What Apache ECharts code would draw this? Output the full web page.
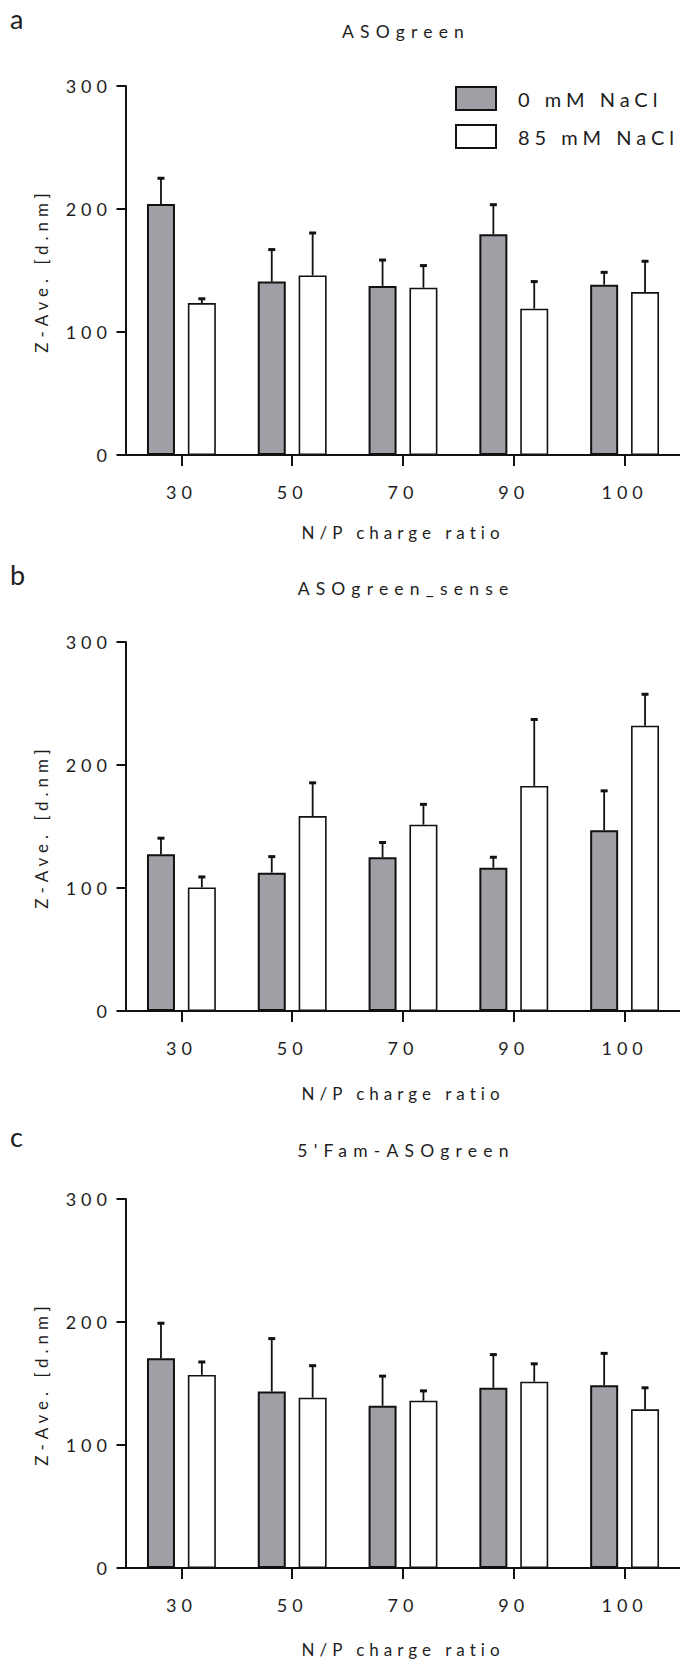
<!DOCTYPE html>
<html><head><meta charset="utf-8">
<script src="https://cdn.jsdelivr.net/npm/echarts@6/dist/echarts.min.js"></script>
<style>
html,body{margin:0;padding:0;background:#fff;}
#chart{width:680px;height:1666px;}
#chart svg text{letter-spacing:5px;}
#chart svg text[style*="17.5px"]{letter-spacing:6.2px;}
</style></head><body><div id="chart"></div>
<script>
// ---- data ----
const categories = ['30', '50', '70', '90', '100'];
const seriesNames = ['0 mM NaCl', '85 mM NaCl'];
const panelTitles = ['ASOgreen', 'ASOgreen_sense', "5'Fam-ASOgreen"];
const panelLetters = ['a', 'b', 'c'];
const xAxisName = 'N/P charge ratio';
const yAxisName = 'Z-Ave. [d.nm]';
const yMin = 0, yMax = 300, yStep = 100;

// panel a: ASOgreen
const a_0mM    = [204, 141, 137.5, 179.5, 138.5];
const a_0mM_sd = [21, 26, 21, 24, 10];
const a_85mM    = [123.5, 146, 136, 119, 132.5];
const a_85mM_sd = [3.5, 34.5, 18, 22, 25];
// panel b: ASOgreen_sense
const b_0mM    = [127.5, 112.5, 125, 116.5, 147];
const b_0mM_sd = [13, 13, 12, 8.5, 32];
const b_85mM    = [100.5, 158.5, 151.5, 183, 232];
const b_85mM_sd = [8.5, 27, 16.5, 54, 25.5];
// panel c: 5'Fam-ASOgreen
const c_0mM    = [170.5, 143.5, 132, 146.5, 148.5];
const c_0mM_sd = [28.5, 43, 24, 27, 26];
const c_85mM    = [157, 138.5, 136, 151.5, 129];
const c_85mM_sd = [10.5, 26, 8, 14.5, 17.5];

const panels = [
  [[a_0mM, a_0mM_sd], [a_85mM, a_85mM_sd]],
  [[b_0mM, b_0mM_sd], [b_85mM, b_85mM_sd]],
  [[c_0mM, c_0mM_sd], [c_85mM, c_85mM_sd]]
];

// ---- style / layout ----
const FONT = 'Lato';
const TXT = '#1e1e1e';
const GRAY = '#a09fa5';
const BAR_W = 28;
const BAR_GAP = 0.46;
const gridTops = [86, 642, 1199];
const GRID_H = 369;
const GRID_LEFT = 126;
const GRID_W = 555;
const xNameGaps = [69, 74, 73];
const titleY = [31, 588, 1150];
const letterY = [18, 574, 1136];

const chart = echarts.init(document.getElementById('chart'), null, {renderer: 'svg'});

const grids = [], xAxes = [], yAxes = [], series = [], graphics = [];
const offsets = [-(BAR_W * (1 + BAR_GAP)) / 2, (BAR_W * (1 + BAR_GAP)) / 2];

panels.forEach((panel, p) => {
  grids.push({left: GRID_LEFT, top: gridTops[p], width: GRID_W, height: GRID_H, containLabel: false});
  xAxes.push({
    type: 'category', gridIndex: p, data: categories,
    axisLine: {show: true, lineStyle: {color: '#111', width: 2}},
    axisTick: {show: true, alignWithLabel: true, length: 11, lineStyle: {color: '#111', width: 2}},
    axisLabel: {margin: 28, fontSize: 18, fontFamily: FONT, color: TXT},
    splitLine: {show: false},
    name: xAxisName, nameLocation: 'middle', nameGap: xNameGaps[p],
    nameTextStyle: {fontSize: 17, fontFamily: FONT, color: TXT}
  });
  yAxes.push({
    type: 'value', gridIndex: p, min: yMin, max: yMax, interval: yStep,
    axisLine: {show: true, lineStyle: {color: '#111', width: 2}},
    axisTick: {show: true, length: 9.5, lineStyle: {color: '#111', width: 2}},
    axisLabel: {margin: 14, fontSize: 18, fontFamily: FONT, color: TXT},
    splitLine: {show: false},
    name: yAxisName, nameLocation: 'middle', nameGap: 76,
    nameTextStyle: {fontSize: 17, fontFamily: FONT, color: TXT}
  });
  panel.forEach((pair, s) => {
    const [vals, sds] = pair;
    series.push({
      type: 'bar', name: seriesNames[s], xAxisIndex: p, yAxisIndex: p,
      data: vals, barWidth: BAR_W, barGap: (BAR_GAP * 100) + '%',
      itemStyle: {color: s === 0 ? GRAY : '#ffffff', borderColor: '#111', borderWidth: s === 0 ? 2 : 1.6},
      emphasis: {disabled: true}, z: 2
    });
    const off = offsets[s];
    series.push({
      type: 'custom', name: seriesNames[s] + ' err', xAxisIndex: p, yAxisIndex: p,
      data: vals.map((v, i) => [i, v, v + sds[i]]),
      encode: {x: 0, y: 1},
      z: 3, silent: true,
      renderItem: (params, api) => {
        const base = api.coord([api.value(0), api.value(1)]);
        const top = api.coord([api.value(0), api.value(2)]);
        const x = base[0] + off;
        return {type: 'group', children: [
          {type: 'line', shape: {x1: x, y1: base[1], x2: x, y2: top[1]}, style: {stroke: '#111', lineWidth: 1.8}},
          {type: 'line', shape: {x1: x - 3.5, y1: top[1], x2: x + 3.5, y2: top[1]}, style: {stroke: '#111', lineWidth: 3}}
        ]};
      }
    });
  });
  graphics.push({type: 'text', x: 406, y: titleY[p], style: {text: panelTitles[p], font: '17.5px ' + FONT, fill: TXT, textAlign: 'center', textVerticalAlign: 'middle'}});
  graphics.push({type: 'text', x: 10, y: letterY[p], style: {text: panelLetters[p], font: '27px ' + FONT, fill: TXT, textAlign: 'left', textVerticalAlign: 'middle'}});
});

chart.setOption({
  animation: false,
  backgroundColor: '#ffffff',
  grid: grids, xAxis: xAxes, yAxis: yAxes, series: series,
  graphic: graphics,
  legend: {
    data: seriesNames, orient: 'vertical', left: 450, top: 81,
    icon: 'rect', itemWidth: 40, itemHeight: 23, itemGap: 13,
    textStyle: {fontSize: 20, fontFamily: FONT, color: TXT, padding: [0, 0, 0, 17]},
    selectedMode: false
  }
});
</script></body></html>
